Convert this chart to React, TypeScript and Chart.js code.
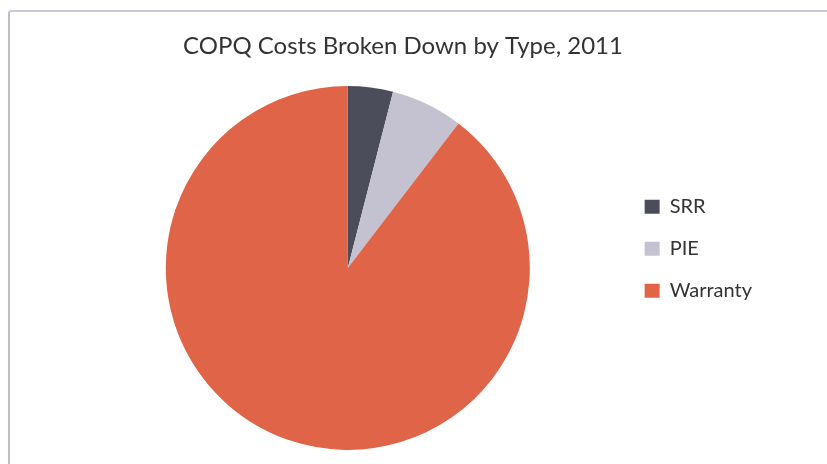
import React, { useEffect, useRef } from "react";
import { Chart, registerables } from "chart.js";

Chart.register(...registerables);

const categories = ["SRR", "PIE", "Warranty"];
const shares = [4.0, 6.4, 89.6];
const sliceColors = ["#4b4e5a", "#c4c2d0", "#df6448"];
const chartTitle = "COPQ Costs Broken Down by Type, 2011";

const titlePlugin = {
  id: "offsetTitle",
  afterDraw(chart: any) {
    const ctx = chart.ctx;
    ctx.save();
    ctx.font = "24px Lato";
    ctx.fillStyle = "#333333";
    ctx.textAlign = "center";
    ctx.textBaseline = "middle";
    ctx.fillText(chartTitle, chart.width * 0.4873, 46);
    ctx.restore();
  },
};

export default function App() {
  const canvasRef = useRef<HTMLCanvasElement | null>(null);

  useEffect(() => {
    const canvas = canvasRef.current;
    if (!canvas) return;
    const chart = new Chart(canvas, {
      type: "pie",
      data: {
        labels: categories,
        datasets: [
          {
            data: shares,
            backgroundColor: sliceColors,
            borderWidth: 0,
            hoverBorderWidth: 0,
            offset: 0,
            hoverOffset: 0,
          },
        ],
      },
      plugins: [titlePlugin],
      options: {
        animation: false,
        responsive: false,
        maintainAspectRatio: false,
        layout: { padding: { left: 73, right: 65, top: 86, bottom: 14 } },
        plugins: {
          tooltip: { enabled: false },
          title: { display: false },
          legend: {
            display: true,
            position: "right",
            align: "start",
            title: {
              display: true,
              text: " ",
              padding: 0,
              font: { size: 74 },
            },
            labels: {
              color: "#333333",
              font: { family: "Lato", size: 20 },
              boxWidth: 15,
              boxHeight: 14,
              padding: 22,
            },
          },
        },
      },
    });
    return () => chart.destroy();
  }, []);

  return (
    <div
      style={{
        position: "fixed",
        left: 0,
        top: 0,
        width: 827,
        height: 464,
        background: "#ffffff",
        overflow: "hidden",
      }}
    >
      <div
        style={{
          position: "absolute",
          left: 8,
          top: 10,
          width: 900,
          height: 500,
          borderTop: "2px solid #c8c8d6",
          borderLeft: "2px solid #bcbccc",
          borderTopLeftRadius: 3,
          boxSizing: "border-box",
        }}
      />
      <canvas
        ref={canvasRef}
        width={827}
        height={464}
        style={{ position: "absolute", left: 0, top: 0, width: 827, height: 464 }}
      />
    </div>
  );
}
